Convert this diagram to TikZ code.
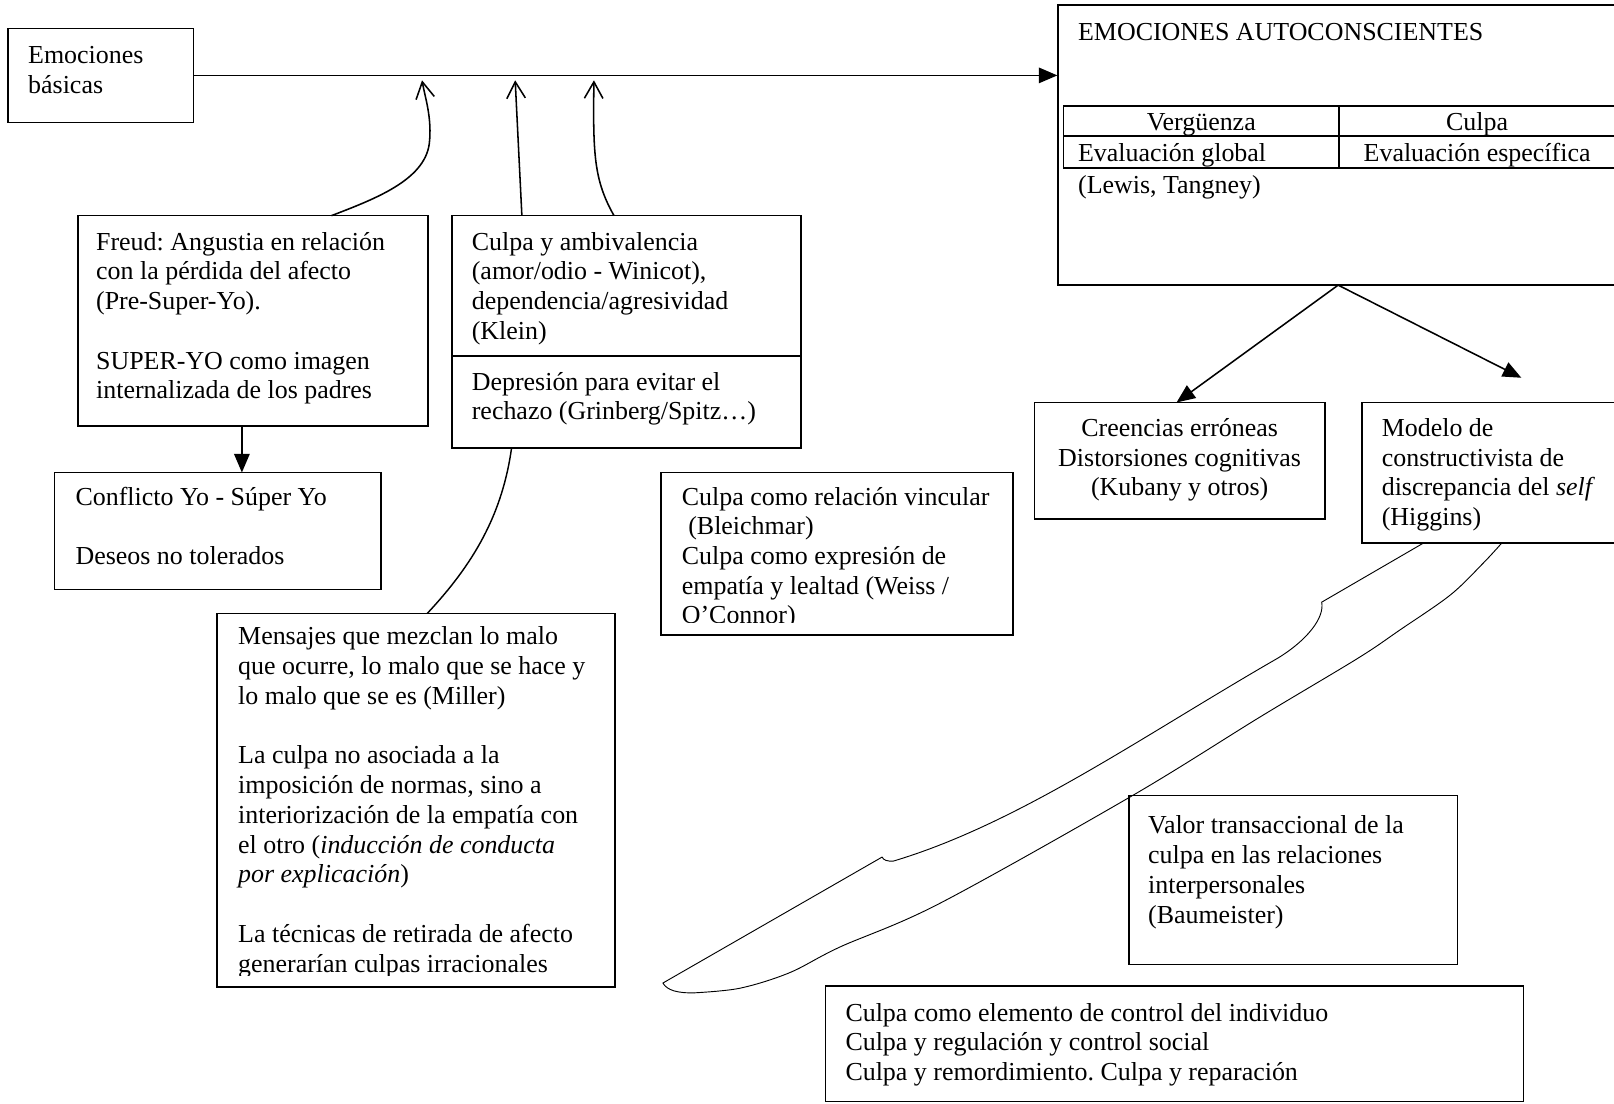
\documentclass[tikz,border=0pt]{standalone}
\usepackage{fontspec}
\setmainfont{Liberation Serif}
\usetikzlibrary{arrows.meta,fit}
\newcommand\txtl[1]{\begin{tabular}[t]{@{}l@{}}#1\end{tabular}}
\newcommand\txtc[1]{\begin{tabular}[t]{@{}c@{}}#1\end{tabular}}
\frenchspacing
\begin{document}
\begin{tikzpicture}[x=0.5pt,y=-0.5pt,
  every node/.style={font=\fontsize{12.6pt}{14.45pt}\selectfont},
  box/.style={draw,line width=0.75pt,inner sep=0pt},
  lbl/.style={anchor=base west,inner sep=0pt},
  clbl/.style={anchor=base,inner sep=0pt},
  solid arrow/.style={line width=0.75pt,-{Triangle[length=9pt,width=7.5pt]}},
  open arrow/.style={line width=0.75pt,-{Straight Barb[length=8pt,width=9pt]}},
  link/.style={line width=0.7pt},
  blade/.style={line width=0.45pt,line join=round}]

\useasboundingbox (0,0) rectangle (1568,1072);
\clip (0,0) rectangle (1568,1072);

% ---------- boxes ----------
\node[box,fit={(8,27.5) (188,119)}] (basicas) {};
\node[box,fit={(76,209.5) (416,414)}] (freud) {};
\node[box,fit={(53,459) (370,572.6)}] (conflicto) {};
\node[box,fit={(439,209.5) (778,435)}] (ambiv) {};
\node[box,fit={(211,596) (597.5,959)}] (mensajes) {};
\node[box,fit={(642,459) (984,617)}] (vincular) {};
\node[box,fit={(1028,5) (1620,277)}] (auto) {};
\node[box,fit={(1033,103) (1301,132)}] (cellA) {};
\node[box,fit={(1301,103) (1620,132)}] (cellB) {};
\node[box,fit={(1033,132) (1301,163)}] (cellC) {};
\node[box,fit={(1301,132) (1620,163)}] (cellD) {};
\node[box,fit={(1005,391) (1287,504)}] (creencias) {};
\node[box,fit={(1323,391) (1620,527.5)}] (modelo) {};
\node[box,fit={(1097,773) (1416,937)}] (valor) {};
\node[box,fit={(802,958) (1480,1070)}] (elemento) {};

% divider inside the ambivalence box
\draw[link] (ambiv.west |- 0,346) -- (ambiv.east |- 0,346);

% ---------- texts ----------
\node[lbl] (tBasicas) at (27,61.5) {\txtl{Emociones\\básicas}};
\node[lbl] (tFreud) at (93,243) {\txtl{Freud: Angustia en relación\\con la pérdida del afecto\\(Pre-Super-Yo).\\ \\SUPER-YO como imagen\\internalizada de los padres}};
\node[lbl] (tConflicto) at (73,490.6) {\txtl{Conflicto Yo - Súper Yo\\ \\Deseos no tolerados}};
\node[lbl] (tAmbiv) at (458,243) {\txtl{Culpa y ambivalencia\\(amor/odio - Winicot),\\dependencia/agresividad\\(Klein)}};
\node[lbl] (tDepresion) at (458,379) {\txtl{Depresión para evitar el\\rechazo (Grinberg/Spitz…)}};
\begin{scope}
  \clip (211,596) rectangle (597.5,947.5);
  \node[lbl] (tMensajes) at (231,626.6) {\txtl{Mensajes que mezclan lo malo\\que ocurre, lo malo que se hace y\\lo malo que se es (Miller)\\ \\La culpa no asociada a la\\imposición de normas, sino a\\interiorización de la empatía con\\el otro (\textit{inducción de conducta}\\\textit{por explicación})\\ \\La técnicas de retirada de afecto\\generarían culpas irracionales}};
\end{scope}
\begin{scope}
  \clip (642,459) rectangle (984,604.5);
  \node[lbl] (tVincular) at (662,490.6) {\txtl{Culpa como relación vincular\\\ (Bleichmar)\\Culpa como expresión de\\empatía y lealtad (Weiss /\\O’Connor)}};
\end{scope}
\node[lbl] (tAuto) at (1047,39) {EMOCIONES AUTOCONSCIENTES};
\node[clbl] (tVerg) at (1167,126.3) {Vergüenza};
\node[clbl] (tCulpa) at (1435,126.3) {Culpa};
\node[lbl] (tGlobal) at (1047,157) {Evaluación global};
\node[clbl] (tEspec) at (1435,157) {Evaluación específica};
\node[lbl] (tLewis) at (1047,188) {(Lewis, Tangney)};
\node[clbl] (tCreencias) at (1146,424) {\txtc{Creencias erróneas\\Distorsiones cognitivas\\(Kubany y otros)}};
\node[lbl] (tModelo) at (1342,424) {\txtl{Modelo de\\constructivista de\\discrepancia del \textit{self}\\(Higgins)}};
\node[lbl] (tValor) at (1115,810) {\txtl{Valor transaccional de la\\culpa en las relaciones\\interpersonales\\(Baumeister)}};
\node[lbl] (tElemento) at (821,992) {\txtl{Culpa como elemento de control del individuo\\Culpa y regulación y control social\\Culpa y remordimiento. Culpa y reparación}};

% ---------- connector end points ----------
\coordinate (upA0) at (322,209.5);
\coordinate (upA1) at (410,78);
\coordinate (upB0) at (507,209.5);
\coordinate (upB1) at (500.5,78);
\coordinate (upC0) at (596.5,209.5);
\coordinate (upC1) at (577,78);
\coordinate (fdown0) at (235,414);
\coordinate (fdown1) at (235,459);
\coordinate (amb0) at (497,435);
\coordinate (men0) at (415,596);
\coordinate (apex) at (1300,277);
\coordinate (creTop) at (1143,391);
\coordinate (rightTip) at (1478,367);

% ---------- connectors ----------
\draw[solid arrow] (basicas.east) -- (basicas.east -| auto.west);
\draw[open arrow] (upA0) .. controls (365,193) and (412,175) .. (417,140)
                         .. controls (420,115) and (413,95) .. (upA1);
\draw[open arrow] (upB0) -- (upB1);
\draw[open arrow] (upC0) .. controls (577,175) and (576,150) .. (upC1);
\draw[solid arrow] (fdown0) -- (fdown1);
\draw[link] (amb0) .. controls (488,500) and (460,548) .. (men0);
\draw[solid arrow] (apex) -- (creTop);
\draw[solid arrow] (apex) -- (rightTip);

% ---------- blade-shaped outline hanging from the Higgins box ----------
\coordinate (bladeL) at (1383,527.5);
\coordinate (notchA) at (1284,585);
\coordinate (notchB) at (857,832.6);
\coordinate (bladeTip) at (644,955);
\coordinate (bladeLow) at (675,964.5);
\coordinate (bladeR) at (1459,527.5);
\draw[blade] (bladeL) -- (notchA)
  .. controls (1287,600) and (1270,622) .. (1241,639.6)
  .. controls (1110,715) and (990,800) .. (868,836.5)
  .. controls (862,837) and (858,835.5) .. (notchB)
  -- (bladeTip)
  .. controls (648,962) and (658,965) .. (bladeLow);
\draw[blade] plot[smooth,tension=0.55] coordinates {(675,964.5) (719,960) (767,945) (816,920) (913,877.6) (1100,773) (1225,696) (1319,639.6) (1360,612) (1409,578) (1441,547) (1459,527.5)};
\end{tikzpicture}
\end{document}
